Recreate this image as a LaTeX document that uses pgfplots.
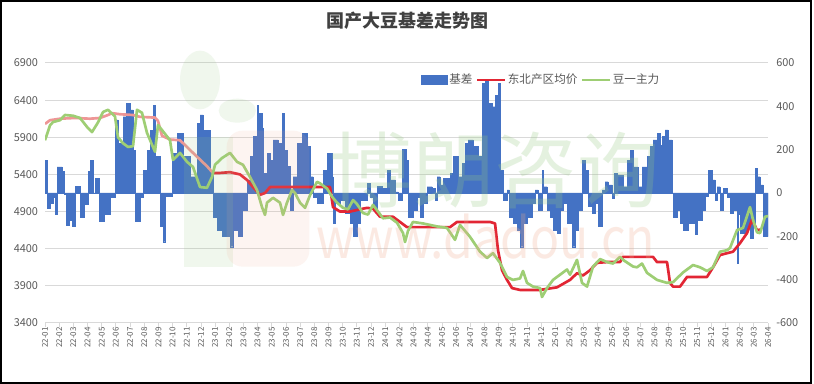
\documentclass[border=0pt]{standalone}
\usepackage{fontspec}
\setmainfont{Noto Sans CJK SC}
\usepackage{pgfplots}
\pgfplotsset{compat=1.18}
\usepackage{pgfplotstable}
\definecolor{barblue}{RGB}{68,114,196}
\definecolor{redline}{RGB}{226,38,52}
\definecolor{pinkline}{RGB}{238,150,150}
\definecolor{greenline}{RGB}{158,206,116}
\definecolor{gridgray}{RGB}{217,217,217}
\definecolor{textgray}{RGB}{89,89,89}
\definecolor{titlegray}{RGB}{64,64,64}
\definecolor{wmgreen}{RGB}{150,200,130}
\definecolor{wmorange}{RGB}{240,170,140}

\pgfplotstableread{
px v
45 150
47 -70
50 -48
53 -20
55 -100
57 120
62 100
64 -5
66 -148
69 -125
72 -155
75 30
80 -110
84 -50
88 100
90 150
93 0
95 68
99 -132
104 -100
110 -20
115 337
118 230
123 352
126 414
130 383
133 198
135 -130
140 -20
143 106
147 198
150 290
153 406
155 168
160 -155
163 -225
165 -15
172 183
177 275
183 168
190 75
197 321
200 360
203 290
210 90
213 -110
217 -170
222 -200
230 -248
233 -170
238 -200
242 -78
247 60
250 168
253 260
257 406
258 367
262 300
263 90
267 183
270 152
273 245
278 229
282 367
284 198
287 122
290 -78
293 75
297 229
302 275
307 214
310 75
313 -20
317 -48
323 106
327 183
332 75
333 -140
335 -48
340 -32
345 -94
350 -140
353 -200
357 -140
360 -32
367 45
370 -20
373 -78
377 30
382 20
387 106
390 60
395 5
398 -32
402 200
406 150
408 -110
413 -78
417 -20
420 -110
423 -48
427 29
432 20
435 -32
437 75
440 37
443 68
450 90
453 168
458 75
462 137
465 229
468 245
473 214
478 168
482 506
485 514
488 414
492 398
495 452
497 337
498 506
500 106
503 -32
507 14
509 -110
513 -140
517 -170
520 -248
523 -140
527 -110
532 -48
535 14
538 -78
542 106
543 29
547 -78
550 -110
553 -170
557 -186
560 -78
563 -48
567 -140
572 -248
575 -170
578 -78
582 152
585 106
588 -63
592 -94
595 -48
598 -155
602 14
605 52
608 37
612 -25
614 91
617 83
623 29
627 152
630 198
633 121
638 29
642 121
647 168
650 214
653 245
657 275
660 220
662 260
665 291
668 245
672 0
673 -110
677 -78
680 -140
683 -170
688 -140
695 -192
697 -125
702 -78
705 -17
708 106
712 60
715 -32
717 29
720 -78
723 21
727 -20
730 -94
733 -78
737 -323
738 -100
740 -186
747 -155
750 -209
753 -150
755 114
757 75
760 37
763 -200
768 -200
}\bardata

\pgfplotstableread{
px v
45 6080
50 6130
60 6150
75 6160
90 6150
100 6160
108 6200
112 6225
120 6210
133 6200
140 6175
155 6165
158 6120
162 5920
170 5870
180 5860
187 5770
193 5690
200 5600
207 5510
213 5420
220 5420
230 5430
240 5400
247 5325
253 5230
260 5125
265 5150
270 5230
330 5230
333 4960
340 4900
350 4900
360 4930
367 4950
373 4940
380 4830
393 4830
400 4760
407 4690
450 4690
457 4760
490 4760
495 4740
498 4380
502 4110
507 3980
512 3870
520 3845
540 3845
557 3880
570 3980
577 4070
583 4040
590 4110
597 4210
607 4220
620 4220
623 4290
653 4290
657 4220
667 4220
670 3940
673 3890
680 3890
687 4020
707 4020
713 4150
720 4315
733 4360
740 4475
747 4610
752 4790
757 4650
762 4660
768 4720
}\reddata

\pgfplotstableread{
px v
45 5860
50 6060
53 6105
60 6130
65 6200
73 6190
80 6160
87 6040
92 5970
98 6100
103 6240
108 6270
115 6180
118 5900
123 5820
128 5770
133 5780
137 6270
142 6230
147 5960
152 5800
155 5705
158 6065
163 5980
170 5860
173 5595
180 5690
187 5570
193 5500
200 5230
207 5220
212 5365
215 5530
222 5620
230 5690
237 5570
243 5530
250 5365
257 5190
262 4960
265 4855
267 5020
273 5085
280 5020
283 4855
287 5020
292 5190
295 5150
300 5020
305 4950
310 5120
317 5300
320 5280
327 5210
332 5100
337 5020
343 4950
348 4930
353 5055
357 5000
363 4880
368 4860
373 4990
378 4900
383 4810
390 4820
397 4750
403 4610
405 4490
408 4640
413 4760
423 4740
437 4700
447 4680
455 4520
460 4720
470 4560
480 4360
487 4275
493 4340
500 4210
507 4020
513 3980
520 4000
523 4100
527 3940
533 3890
540 3870
542 3750
547 3870
553 3980
560 4050
567 4120
570 4050
577 4250
582 3940
587 3890
593 4160
600 4260
607 4220
613 4200
620 4290
623 4250
633 4160
637 4150
642 4200
647 4075
657 3980
667 3940
673 3950
683 4080
693 4180
700 4150
707 4100
713 4150
720 4360
727 4380
730 4410
737 4650
743 4680
750 4960
753 4790
757 4620
760 4610
765 4830
768 4840
}\greendata

\pgfplotsset{
  base/.style={
    at={(33.75pt,45.75pt)}, anchor=south west,
    scale only axis, width=542.25pt, height=195pt,
    xmin=0, xmax=51,
  },
}

\begin{document}
\begin{tikzpicture}[x=1pt,y=1pt]
\path[use as bounding box] (0,0) rectangle (610.5,288);
\fill[white] (0,0) rectangle (610.5,288);
\node[text=titlegray, font=\bfseries\fontsize{13.5}{16}\selectfont] at (305.25,272.5) {国产大豆基差走势图};

% axis 1: grid, left labels, month labels
\begin{axis}[base,
  ymin=3400, ymax=6900,
  ytick={3400,3900,4400,4900,5400,5900,6400,6900},
  yticklabels={3400,3900,4400,4900,5400,5900,6400,6900},
  ymajorgrids, grid style={draw=gridgray, line width=0.75pt},
  axis x line*=bottom, axis y line*=left,
  y axis line style={draw=none},
  x axis line style={draw=gridgray, line width=0.75pt, -},
  ytick style={draw=none},
  xtick={0,...,51},
  xticklabels={22-01,22-02,22-03,22-04,22-05,22-06,22-07,22-08,22-09,22-10,22-11,22-12,
    23-01,23-02,23-03,23-04,23-05,23-06,23-07,23-08,23-09,23-10,23-11,23-12,
    24-01,24-02,24-03,24-04,24-05,24-06,24-07,24-08,24-09,24-10,24-11,24-12,
    25-01,25-02,25-03,25-04,25-05,25-06,25-07,25-08,25-09,25-10,25-11,25-12,
    26-01,26-02,26-03,26-04},
  xtick align=outside,
  x tick style={draw=gridgray, line width=0.6pt},
  major tick length=3pt,
  xticklabel style={rotate=90, anchor=east, font=\fontsize{6}{7}\selectfont, text=textgray, inner sep=0pt},
  yticklabel style={font=\fontsize{8.2}{10}\selectfont, text=textgray, inner sep=0pt, xshift=-5pt},
]
\addplot[draw=none, forget plot] coordinates {(0,3400)};
\end{axis}

% axis 2: basis bars, right axis
\begin{axis}[base,
  ymin=-600, ymax=600,
  axis y line*=right, axis x line=none,
  y axis line style={draw=none},
  ytick={-600,-400,-200,0,200,400,600},
  yticklabels={-600,-400,-200,0,200,400,600},
  ytick style={draw=none},
  yticklabel style={font=\fontsize{8.2}{10}\selectfont, text=textgray, inner sep=0pt, anchor=west, xshift=6pt},
]
\addplot[ybar interval, fill=barblue, draw=barblue, line width=0.3pt] table[x expr=(\thisrow{px}-45)/14.176, y=v] {\bardata};
\end{axis}

% axis 3: price lines, left scale
\begin{axis}[base,
  ymin=3400, ymax=6900, hide axis,
  legend columns=3,
  legend style={at={(0.52,0.935)}, anchor=west, draw=none, fill=none,
    font=\fontsize{8.7}{10}\selectfont, text=textgray, inner sep=0pt,
    nodes={inner sep=1.2pt},
    /tikz/every even column/.append style={column sep=1.5pt}},
]
\addlegendimage{legend image code/.code={\fill[barblue] (0pt,-3pt) rectangle (19.5pt,3.2pt);}}
\addlegendentry{基差}
\addlegendimage{legend image code/.code={\draw[redline, line width=1.6pt] (0pt,0pt) -- (21pt,0pt);}}
\addlegendentry{东北产区均价}
\addlegendimage{legend image code/.code={\draw[greenline, line width=1.6pt] (0pt,0pt) -- (21pt,0pt);}}
\addlegendentry{豆一主力}
\addplot[pinkline, line width=2pt, line join=round, forget plot, restrict x to domain=0:11.86] table[x expr=(\thisrow{px}-45)/14.176, y=v] {\reddata};
\addplot[redline, line width=2pt, line join=round, forget plot, restrict x to domain=11.84:51] table[x expr=(\thisrow{px}-45)/14.176, y=v] {\reddata};
\addplot[greenline, line width=2pt, line join=round, forget plot] table[x expr=(\thisrow{px}-45)/14.176, y=v] {\greendata};
\end{axis}

% watermark (logo shapes and text)
\fill[wmgreen, opacity=0.14] (138,88) rectangle (175,185);
\fill[wmorange, opacity=0.12, rounded corners=12pt] (170,88) rectangle (232,190);
\fill[wmgreen, opacity=0.14] (150,228) ellipse (15pt and 22pt);
\fill[wmgreen, opacity=0.14] (178,205) ellipse (14pt and 9pt);
\node[text=wmgreen, opacity=0.25, inner sep=0pt, font=\fontsize{62}{66}\selectfont] at (371,160.5) {博朗咨询};
\node[text=wmorange, opacity=0.25, inner sep=0pt, anchor=base, xscale=0.86, font=\fontsize{42}{46}\selectfont] at (364.5,94) {www.dadou.cn};

\draw[black, line width=1.5pt] (0.75,0.75) rectangle (607.9,287.25);
\end{tikzpicture}
\end{document}
